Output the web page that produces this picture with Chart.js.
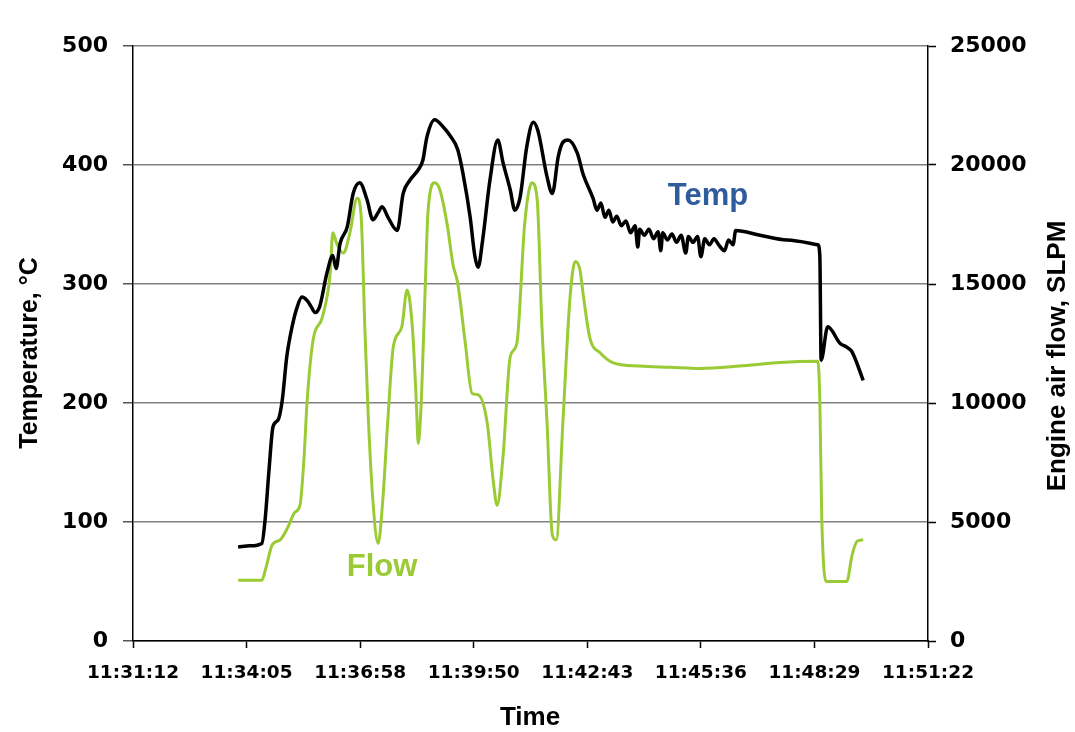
<!DOCTYPE html>
<html>
<head>
<meta charset="utf-8">
<title>Engine temperature and air flow</title>
<script src="https://cdn.jsdelivr.net/npm/chart.js@4.4.1/dist/chart.umd.min.js"></script>
<style>
  body { margin: 0; background: #fff; }
</style>
</head>
<body>
<canvas id="chart" width="1075" height="732"></canvas>
<script>
// time axis labels, one every 0.002 day (172.8 s)
var xTickLabels = ['11:31:12', '11:34:05', '11:36:58', '11:39:50', '11:42:43', '11:45:36', '11:48:29', '11:51:22'];
var xStep = 172.8;

// exhaust temperature, deg C
var tempTimes = [
    '11:33:52', '11:34:10', '11:34:28', '11:34:33', '11:34:39', '11:34:45', '11:34:53', '11:34:59',
    '11:35:06', '11:35:14', '11:35:22', '11:35:29', '11:35:37', '11:35:43', '11:35:49', '11:35:56',
    '11:36:07', '11:36:16', '11:36:21', '11:36:27', '11:36:38', '11:36:47', '11:36:57', '11:37:08',
    '11:37:17', '11:37:25', '11:37:31', '11:37:40', '11:37:54', '11:38:03', '11:38:13', '11:38:26',
    '11:38:33', '11:38:39', '11:38:51', '11:39:04', '11:39:14', '11:39:26', '11:39:34', '11:39:45',
    '11:39:52', '11:39:57', '11:40:04', '11:40:15', '11:40:27', '11:40:35', '11:40:46', '11:40:53',
    '11:41:01', '11:41:11', '11:41:21', '11:41:28', '11:41:42', '11:41:50', '11:41:59', '11:42:06',
    '11:42:14', '11:42:28', '11:42:37', '11:42:52', '11:42:58', '11:43:04', '11:43:10', '11:43:16',
    '11:43:22', '11:43:28', '11:43:35', '11:43:42', '11:43:49', '11:43:56', '11:44:00', '11:44:03',
    '11:44:10', '11:44:17', '11:44:24', '11:44:31', '11:44:35', '11:44:38', '11:44:45', '11:44:52',
    '11:44:59', '11:45:06', '11:45:13', '11:45:17', '11:45:24', '11:45:31', '11:45:36', '11:45:42',
    '11:45:49', '11:45:56', '11:46:03', '11:46:12', '11:46:18', '11:46:25', '11:46:29', '11:47:06',
    '11:47:47', '11:48:34', '11:48:37', '11:48:39', '11:48:49', '11:49:08', '11:49:18', '11:49:26',
    '11:49:43'
];
var tempValues = [
    79, 80, 82, 102, 144, 180, 186, 202,
    239, 264, 281, 289, 286, 281, 276, 281,
    309, 324, 313, 334, 348, 376, 385, 371,
    354, 360, 365, 356, 345, 376, 387, 396,
    404, 423, 438, 432, 425, 413, 393, 356,
    324, 314, 337, 387, 421, 402, 379, 362,
    373, 415, 436, 429, 390, 376, 407, 419,
    421, 410, 392, 372, 362, 368, 356, 362,
    352, 357, 349, 353, 343, 349, 331, 346,
    341, 346, 338, 344, 328, 343, 337, 342,
    335, 341, 326, 340, 335, 340, 323, 338,
    333, 338, 333, 328, 337, 333, 345, 341,
    337, 333, 324, 236, 264, 250, 247, 243,
    219
];

// engine air flow, SLPM
var flowTimes = [
    '11:33:52', '11:34:28', '11:34:34', '11:34:44', '11:34:56', '11:35:08', '11:35:18', '11:35:26',
    '11:35:32', '11:35:37', '11:35:46', '11:36:00', '11:36:12', '11:36:16', '11:36:22', '11:36:32',
    '11:36:42', '11:36:53', '11:36:59', '11:37:05', '11:37:10', '11:37:17', '11:37:25', '11:37:32',
    '11:37:40', '11:37:48', '11:38:01', '11:38:09', '11:38:17', '11:38:23', '11:38:26', '11:38:30',
    '11:38:36', '11:38:41', '11:38:51', '11:38:59', '11:39:10', '11:39:19', '11:39:26', '11:39:37',
    '11:39:48', '11:39:57', '11:40:11', '11:40:20', '11:40:26', '11:40:35', '11:40:46', '11:40:56',
    '11:41:08', '11:41:19', '11:41:27', '11:41:34', '11:41:42', '11:41:50', '11:41:56', '11:42:06',
    '11:42:17', '11:42:25', '11:42:32', '11:42:37', '11:42:47', '11:43:03', '11:43:22', '11:44:03',
    '11:44:49', '11:45:35', '11:46:35', '11:47:36', '11:48:34', '11:48:37', '11:48:40', '11:48:48',
    '11:49:18', '11:49:26', '11:49:34', '11:49:43'
];
var flowValues = [
    2550, 2550, 3050, 4050, 4250, 4800, 5400, 5700,
    7600, 10100, 12650, 13600, 15450, 17150, 16700, 16300,
    17150, 18600, 17900, 12950, 9400, 5900, 4100, 5900,
    9400, 12350, 13200, 14750, 13200, 10100, 8300, 9700,
    14350, 18100, 19250, 18950, 17500, 15800, 15050, 12650,
    10400, 10350, 9150, 6750, 5700, 7750, 11950, 12500,
    17550, 19250, 18550, 13350, 9150, 4450, 4250, 9150,
    14450, 15950, 15600, 14550, 12750, 12100, 11700, 11550,
    11500, 11450, 11550, 11700, 11750, 10100, 5100, 2500,
    2500, 3600, 4200, 4250
];

function toSeconds(hms) {
    var p = hms.split(':');
    return (+p[0]) * 3600 + (+p[1]) * 60 + (+p[2]);
}

function toPoints(times, values) {
    return times.map(function(t, i) {
        return { x: toSeconds(t), y: values[i] };
    });
}

var xMin = toSeconds(xTickLabels[0]);
var xMax = xMin + xStep * (xTickLabels.length - 1);

// wide heavy digits for the value axes
var tickFont = { family: 'DejaVu Sans', weight: 'bold', size: 22 };

// axis titles and the two series names, drawn straight onto the canvas
var labelPlugin = {
    id: 'labels',
    afterDraw: function(chart) {
        var ctx = chart.ctx;
        ctx.save();
        ctx.textAlign = 'center';
        ctx.textBaseline = 'middle';
        ctx.fillStyle = '#000';

        ctx.font = 'bold 25px "Liberation Sans"';
        ctx.save();
        ctx.translate(30, 353);
        ctx.rotate(-Math.PI / 2);
        ctx.fillText('Temperature, \u00B0C', 0, 0);
        ctx.restore();

        ctx.font = 'bold 26px "Liberation Sans"';
        ctx.save();
        ctx.translate(1058, 356);
        ctx.rotate(-Math.PI / 2);
        ctx.fillText('Engine air flow, SLPM', 0, 0);
        ctx.restore();

        ctx.font = 'bold 26px "Liberation Sans"';
        ctx.fillText('Time', 530, 718);

        ctx.font = 'bold 31px "Liberation Sans"';
        ctx.fillStyle = '#2f5c9c';
        ctx.fillText('Temp', 708, 196);
        ctx.fillStyle = '#9acb35';
        ctx.fillText('Flow', 382, 567);
        ctx.restore();
    }
};

var chart = new Chart(document.getElementById('chart'), {
    type: 'line',
    data: {
        datasets: [
            {
                label: 'Temp',
                data: toPoints(tempTimes, tempValues),
                yAxisID: 'y',
                borderColor: '#000',
                borderWidth: 3.5,
                pointRadius: 0,
                cubicInterpolationMode: 'monotone'
            },
            {
                label: 'Flow',
                data: toPoints(flowTimes, flowValues),
                yAxisID: 'y1',
                borderColor: '#9acb35',
                borderWidth: 3,
                pointRadius: 0,
                cubicInterpolationMode: 'monotone'
            }
        ]
    },
    options: {
        responsive: false,
        animation: false,
        layout: { padding: { top: 46 } },
        plugins: {
            legend: { display: false },
            tooltip: { enabled: false }
        },
        scales: {
            x: {
                type: 'linear',
                min: xMin,
                max: xMax,
                afterBuildTicks: function(scale) {
                    scale.ticks = xTickLabels.map(function(l, i) {
                        return { value: xMin + i * xStep };
                    });
                },
                afterFit: function(scale) { scale.height = 91; },
                grid: { drawOnChartArea: false, drawTicks: true, tickLength: 7, tickColor: '#000', tickWidth: 1.5 },
                border: { display: true, color: '#000', width: 1.5 },
                ticks: {
                    autoSkip: false,
                    maxRotation: 0,
                    color: '#000',
                    padding: 14,
                    font: { family: 'DejaVu Sans', weight: 'bold', size: 18.5 },
                    callback: function(v, i) { return xTickLabels[i]; }
                }
            },
            y: {
                position: 'left',
                min: 0,
                max: 500,
                afterFit: function(scale) { scale.width = 133; },
                grid: { color: '#808080', lineWidth: 1.5, drawTicks: true, tickLength: 10, tickColor: '#555' },
                border: { display: true, color: '#000', width: 1.5 },
                ticks: { stepSize: 100, color: '#000', padding: 15, font: tickFont }
            },
            y1: {
                position: 'right',
                min: 0,
                max: 25000,
                afterFit: function(scale) { scale.width = 147; },
                grid: { drawOnChartArea: false, drawTicks: true, tickLength: 8, tickColor: '#000', tickWidth: 1.5 },
                border: { display: true, color: '#000', width: 1.5 },
                ticks: {
                    stepSize: 5000,
                    color: '#000',
                    padding: 14,
                    font: tickFont,
                    callback: function(v) { return String(v); }
                }
            }
        }
    },
    plugins: [labelPlugin]
});
</script>
</body>
</html>
